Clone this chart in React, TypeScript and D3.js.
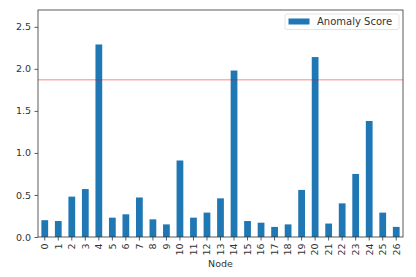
import React, { useEffect, useRef } from 'react';
import * as d3 from 'd3';

// values
const nodes = d3.range(27).map(String);
const anomalyScore = [0.2, 0.19, 0.48, 0.57, 2.29, 0.23, 0.27, 0.47, 0.21, 0.15, 0.91, 0.23, 0.29, 0.46, 1.98,
  0.19, 0.17, 0.12, 0.15, 0.56, 2.14, 0.16, 0.4, 0.75, 1.38, 0.29, 0.12];
const threshold = 1.87;
const yTicks = [0, 0.5, 1, 1.5, 2, 2.5];

const App = () => {
  const ref = useRef<SVGSVGElement>(null);

  useEffect(() => {
    const svg = d3.select(ref.current);
    svg.selectAll('*').remove();

    const left = 38, right = 403, top = 10, bottom = 237;
    const font = 'DejaVu Sans';
    const fs = 9.5;
    const ink = '#333';

    const x = d3.scaleBand().domain(nodes).range([left, right]).paddingInner(0.5).paddingOuter(0.25);
    const y = d3.scaleLinear().domain([0, 2.7]).range([bottom, top]);

    const chart = svg.append('g');

    // bars
    chart.selectAll('rect.bar')
      .data(anomalyScore)
      .enter()
      .append('rect')
      .attr('class', 'bar')
      .attr('x', (d, i) => x(nodes[i]) as number)
      .attr('y', d => y(d))
      .attr('width', x.bandwidth())
      .attr('height', d => y(0) - y(d))
      .attr('fill', '#1f77b4');

    // threshold line
    chart.append('line')
      .attr('x1', left).attr('x2', right)
      .attr('y1', y(threshold)).attr('y2', y(threshold))
      .attr('stroke', '#ff0000').attr('stroke-opacity', 0.32).attr('stroke-width', 1.5);

    // axes
    const yAxis = d3.axisLeft(y).tickValues(yTicks).tickFormat(d3.format('.1f')).tickSize(3.5).tickPadding(3.5);
    const gy = chart.append('g').attr('transform', `translate(${left},0)`).call(yAxis);
    const xAxis = d3.axisBottom(x).tickSize(3.5).tickPadding(2);
    const gx = chart.append('g').attr('transform', `translate(0,${bottom})`).call(xAxis);

    [gx, gy].forEach(g => {
      g.select('.domain').remove();
      g.selectAll('line').attr('stroke', ink).attr('stroke-width', 0.8);
      g.selectAll('text').attr('fill', ink).style('font-family', font).style('font-size', fs + 'px');
    });
    gx.selectAll('text')
      .attr('transform', 'rotate(-90)')
      .attr('y', 0)
      .attr('x', -6.5)
      .attr('dy', '0.35em')
      .style('text-anchor', 'end');

    // frame
    chart.append('rect')
      .attr('x', left).attr('y', top)
      .attr('width', right - left).attr('height', bottom - top)
      .attr('fill', 'none').attr('stroke', ink).attr('stroke-width', 0.8);

    // x label
    chart.append('text')
      .attr('x', (left + right) / 2).attr('y', 267)
      .attr('text-anchor', 'middle')
      .attr('fill', ink)
      .style('font-family', font).style('font-size', fs + 'px')
      .text('Node');

    // legend
    const legend = chart.append('g');
    legend.append('rect')
      .attr('x', 285).attr('y', 14).attr('width', 114).attr('height', 15.5).attr('rx', 2)
      .attr('fill', '#fff').attr('stroke', '#ddd').attr('stroke-width', 0.8);
    legend.append('rect')
      .attr('x', 288.5).attr('y', 18.5).attr('width', 21).attr('height', 6)
      .attr('fill', '#1f77b4');
    legend.append('text')
      .attr('x', 317).attr('y', 25)
      .attr('fill', ink)
      .style('font-family', font).style('font-size', '10px')
      .text('Anomaly Score');
  }, []);

  return (
    <svg ref={ref} width={416} height={277} style={{ position: 'absolute', left: 0, top: 0, background: '#fff' }} />
  );
};

export default App;
